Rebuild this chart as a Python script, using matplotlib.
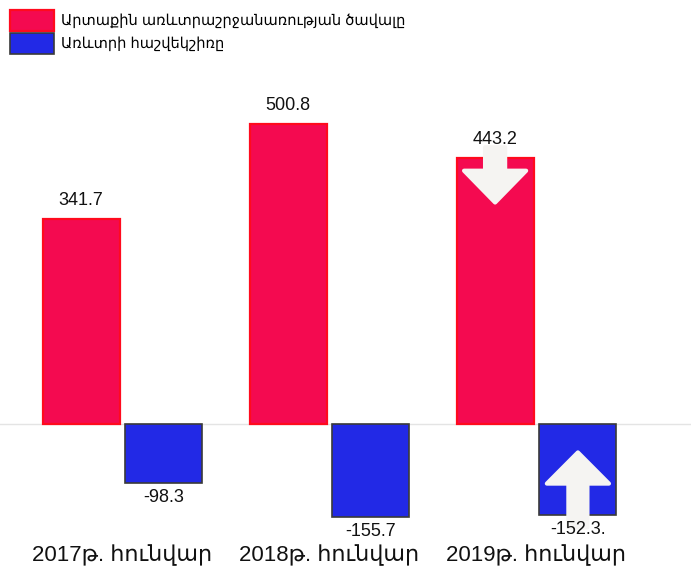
import matplotlib
matplotlib.use('Agg')
import matplotlib.pyplot as plt
from matplotlib.patches import FancyArrow
import numpy as np

plt.rcParams['font.family'] = ['Liberation Sans', 'Noto Sans', 'DejaVu Sans']

# data
categories = ['2017թ. հունվար', '2018թ. հունվար', '2019թ. հունվար']
turnover = [341.7, 500.8, 443.2]
balance = [-98.3, -155.7, -152.3]
balance_labels = ['-98.3', '-155.7', '-152.3.']
series_names = ['Արտաքին առևտրաշրջանառության ծավալը', 'Առևտրի հաշվեկշիռը']

red = '#f40a50'
blue = '#2229e6'

fig = plt.figure(figsize=(6.91, 5.7), dpi=100)
ax = fig.add_axes([0, 30 / 570, 1, 480 / 570])

x = np.arange(len(categories))
w = 0.372
off = 0.2

ax.axhline(0, color='#e4e4e4', lw=1, zorder=0)

b1 = ax.bar(x - off, turnover, w, color=red, edgecolor='#ff0a1e', linewidth=1.6,
            label=series_names[0], zorder=2)
b2 = ax.bar(x + off, balance, w, color=blue, edgecolor='#3a3a3a', linewidth=1.2,
            label=series_names[1], zorder=2)

# white arrows on 2019 bars
i = 2
ax.add_patch(FancyArrow(x[i] - off, turnover[i] + 18, 0, -92, width=0.097,
                        head_width=0.30, head_length=53, length_includes_head=True,
                        facecolor='#f5f4f2', edgecolor='#f5f4f2', lw=3,
                        joinstyle='round', zorder=3))
ax.add_patch(FancyArrow(x[i] + off, balance[i] - 20, 0, 125, width=0.092,
                        head_width=0.30, head_length=52, length_includes_head=True,
                        facecolor='#f5f4f2', edgecolor='#f5f4f2', lw=3,
                        joinstyle='round', zorder=3))

for xi, v in zip(x, turnover):
    ax.annotate(f'{v}', (xi - off, v), xytext=(0, 7), textcoords='offset points',
                ha='center', va='bottom', fontsize=13, color='#111111', zorder=4)
for xi, v, t in zip(x, balance, balance_labels):
    ax.annotate(t, (xi + off, v), xytext=(0, -4), textcoords='offset points',
                ha='center', va='top', fontsize=13, color='#111111', zorder=4)

ax.set_xlim(-122.5 / 207, (691 - 122.5) / 207)
ax.set_ylim(-193.3, 606.7)
ax.set_xticks(x)
ax.set_xticklabels(categories, fontsize=16, color='#111111')
ax.tick_params(axis='x', length=0, pad=3)
ax.set_yticks([])
for s in ax.spines.values():
    s.set_visible(False)
ax.patch.set_alpha(0)

ax.legend(loc='upper left', bbox_to_anchor=(0.0, 1.0), bbox_transform=fig.transFigure,
          frameon=False, fontsize=10.5, handlelength=3.0, handleheight=1.8,
          labelspacing=0.15, handletextpad=0.5, borderaxespad=0.3)

fig.savefig('out.png', dpi=100)
